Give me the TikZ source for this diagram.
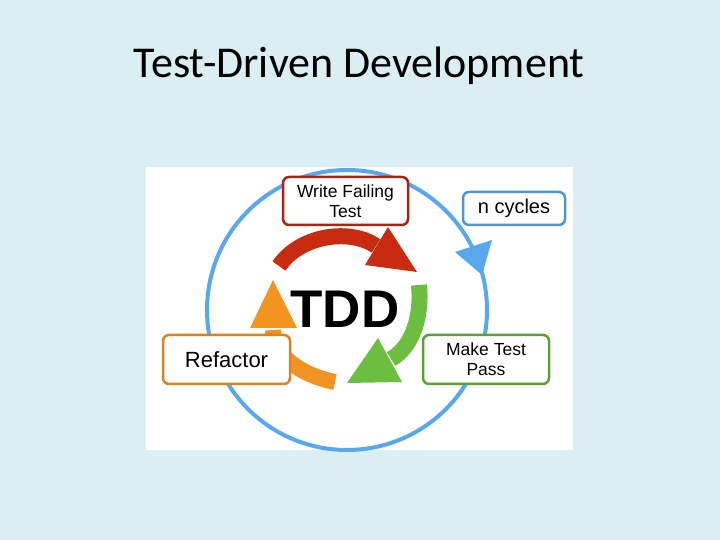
\documentclass[tikz,border=0pt]{standalone}
\usepackage{fontspec}
\setmainfont{Liberation Sans}
\newfontfamily\titlefont{Carlito}
\definecolor{slidebg}{HTML}{DBEEF4}
\definecolor{cycleblue}{HTML}{59A7EE}
\definecolor{failred}{HTML}{C92B10}
\definecolor{passgreen}{HTML}{6CBE40}
\definecolor{refactororange}{HTML}{F29322}
\tikzset{
  stepbox/.style={draw, line width=2.5pt, rounded corners=6pt, fill=white, align=center, inner sep=0pt},
  band/.style={line width=16pt}
}
\begin{document}
\begin{tikzpicture}[x=1pt, y=1pt]
\useasboundingbox (0,0) rectangle (720,540);
\fill[slidebg] (0,0) rectangle (720,540);
\node[anchor=base, font=\titlefont\fontsize{44}{52}\selectfont] (title) at (359,462) {Test-Driven Development};
\fill[white] (146,90) rectangle (573,373);
% outer cycle
\draw[cycleblue, line width=4pt] (347,230) circle (140);
\fill[cycleblue] (455,288) -- (492,300) -- (482,265) -- cycle;
% inner arrows
\draw[failred, band] (279,274) .. controls (300,305) and (350,312) .. (376,294);
\fill[failred] (388,313) -- (365,275) -- (417,268) -- cycle;
\draw[passgreen, band] (419,255) .. controls (422,225) and (413,193) .. (391,181);
\fill[passgreen] (378,202) -- (402,158) -- (347,157) -- cycle;
\draw[refactororange, band] (335,158) .. controls (300,165) and (273,185) .. (273,210);
\fill[refactororange] (250,212) -- (297,212) -- (273,260) -- cycle;
\node[anchor=base, font=\bfseries\fontsize{53}{60}\selectfont] (tdd) at (345,212) {TDD};
% steps
\node[stepbox, draw=failred!85!black, minimum width=125, minimum height=48, font=\fontsize{17.5}{20}\selectfont] (write) at (345.5,339) {Write Failing\\Test};
\node[stepbox, draw=cycleblue!90!black, minimum width=102, minimum height=33, font=\fontsize{20}{24}\selectfont] (cycles) at (514,331.5) {n cycles};
\node[stepbox, draw=refactororange!90!black, minimum width=127, minimum height=49, font=\fontsize{22}{26}\selectfont] (refactor) at (226.5,180.5) {Refactor};
\node[stepbox, draw=passgreen!85!black, minimum width=126, minimum height=49, font=\fontsize{17.5}{20}\selectfont] (pass) at (486,180.5) {Make Test\\Pass};
\end{tikzpicture}
\end{document}
